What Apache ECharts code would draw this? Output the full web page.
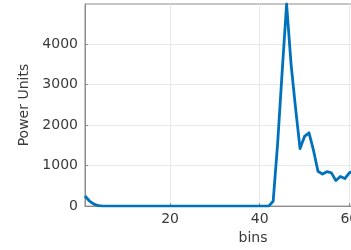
<!DOCTYPE html>
<html>
<head>
<meta charset="utf-8">
<script src="https://cdn.jsdelivr.net/npm/echarts@6/dist/echarts.min.js"></script>
<style>
  html, body { margin: 0; padding: 0; background: #fff; overflow: hidden; }
  /* the original figure is cropped on the right, so the chart is wider than the window */
  #chart { width: 431px; height: 250px; }
</style>
</head>
<body>
<div id="chart"></div>
<script>
// bins 1..62 (the right part of the figure is cut off)
const bins = Array.from({ length: 62 }, (_, i) => i + 1);
const power = [
  250, 125, 50, 10, 0, 0, 0, 0, 0, 0,
  0, 0, 0, 0, 0, 0, 0, 0, 0, 0,
  0, 0, 0, 0, 0, 0, 0, 0, 0, 0,
  0, 0, 0, 0, 0, 0, 0, 0, 0, 0,
  0, 0, 120, 1550, 3300, 4990, 3500, 2420, 1420, 1720,
  1810, 1380, 860, 790, 850, 820, 630, 730, 680, 820,
  870, 900
];
const xTicks = [20, 40, 60];
const yTicks = [0, 1000, 2000, 3000, 4000];

const chart = echarts.init(document.getElementById("chart"), null, { renderer: "canvas" });

const axisColor = "#8c8c8c";
const textColor = "#3a3a3a";
const font = "DejaVu Sans";

chart.setOption({
  animation: false,
  grid: {
    left: 85,
    top: 4,
    right: 10,
    bottom: 40,
    show: true,
    borderColor: axisColor,
    borderWidth: 1,
    containLabel: false
  },
  xAxis: {
    type: "value",
    min: 1,
    max: 76,
    name: "bins",
    nameLocation: "middle",
    nameGap: 23,
    nameTextStyle: { color: textColor, fontSize: 14, fontFamily: font },
    axisLine: { show: true, lineStyle: { color: axisColor, width: 1 } },
    axisTick: { show: true, inside: true, length: 3, lineStyle: { color: axisColor }, customValues: xTicks },
    axisLabel: {
      color: textColor, fontSize: 14, fontFamily: font, margin: 6,
      customValues: xTicks, formatter: (v) => String(v)
    },
    splitLine: { show: true, lineStyle: { color: "#e8e8e8", width: 1 } }
  },
  yAxis: {
    type: "value",
    min: 0,
    max: 4990,
    name: "Power Units",
    nameLocation: "middle",
    nameGap: 53,
    nameTextStyle: { color: textColor, fontSize: 14, fontFamily: font },
    axisLine: { show: true, lineStyle: { color: axisColor, width: 1 } },
    axisTick: { show: true, inside: true, length: 3, lineStyle: { color: axisColor }, customValues: yTicks },
    axisLabel: {
      color: textColor, fontSize: 14, fontFamily: font, margin: 7,
      customValues: yTicks, formatter: (v) => String(v)
    },
    splitLine: { show: true, lineStyle: { color: "#e8e8e8", width: 1 } }
  },
  series: [
    {
      type: "line",
      data: bins.map((b, i) => [b, power[i]]),
      showSymbol: false,
      symbol: "none",
      clip: true,
      lineStyle: { color: "#0072BD", width: 2.8, join: "round" }
    }
  ]
});
</script>
</body>
</html>
